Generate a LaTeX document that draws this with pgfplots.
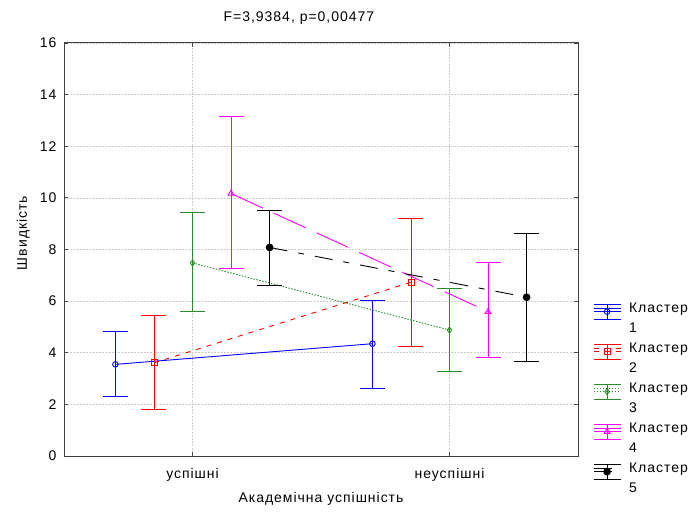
\documentclass[border=0pt]{standalone}
\usepackage{fontspec}
\setmainfont{Liberation Sans}[LetterSpace=7]
\usepackage{pgfplots}
\pgfplotsset{compat=1.18}
\definecolor{cgreen}{RGB}{40,140,40}
\definecolor{cmag}{RGB}{255,0,255}
\begin{document}
\begin{tikzpicture}
\begin{axis}[
  at={(64bp,56bp)}, anchor=south west,
  scale only axis, width=514bp, height=413bp,
  xmin=-0.5, xmax=1.5, ymin=0, ymax=16,
  xtick={0,1}, xticklabels={успішні,неуспішні},
  ytick={0,2,...,16},
  /pgf/number format/assume math mode=true,
  font=\fontsize{14bp}{16bp}\selectfont,
  grid=major, grid style={dash pattern=on 2bp off 1.2bp, gray!40, line width=0.6bp},
  tick align=inside, major tick length=4bp,
  tick style={gray!60!black, line width=0.8bp},
  axis line style={gray!50!black, line width=1bp},
  xticklabel style={anchor=base, yshift=-22bp},
  yticklabel style={xshift=-4bp},
  title={F=3,9384, p=0,00477},
  title style={at={(0.457,1)}, anchor=base, yshift=16bp},
  xlabel={Академічна успішність},
  xlabel style={at={(0.5,0)}, anchor=base, yshift=-46bp},
  ylabel={Швидкість},
  ylabel style={at={(-0.072,0.54)}, anchor=base},
  every axis plot/.append style={line width=0.9bp},
  error bars/error bar style={solid, line width=0.9bp},
  error bars/error mark options={rotate=90, mark size=12.5bp, solid, line width=0.9bp},
  legend style={at={(1.029,0.373)}, anchor=north west, draw=none, fill=none, inner sep=0pt,
    font=\fontsize{14bp}{16bp}\selectfont, row sep=7bp,
    nodes={inner sep=0pt, text height=10bp, text depth=3bp},
    /tikz/every odd column/.append style={column sep=8bp}},
  legend cell align=left,
  legend image code/.code={
    \path (0bp,0bp) -- (27bp,0bp);
    \begin{scope}[overlay, yshift=-3bp]
    \draw[#1] (0bp,0bp) -- (27bp,0bp);
    \draw[#1,solid] (0bp,7.5bp) -- (27bp,7.5bp) (0bp,-7.5bp) -- (27bp,-7.5bp) (13.5bp,-7.5bp) -- (13.5bp,7.5bp);
    \draw[mark repeat=2,mark phase=2,#1,draw=none] plot coordinates {(0bp,0bp) (13.5bp,0bp) (27bp,0bp)};
    \end{scope}
  },
]
\addplot[blue, solid, mark=o, mark size=2.8bp, mark options={solid, fill=white},
  error bars/.cd, y dir=both, y explicit]
  coordinates {(-0.3,3.55) += (0,1.26) -= (0,1.25) (0.7,4.35) += (0,1.69) -= (0,1.72)};
\addlegendentry{Кластер}
\addlegendimage{empty legend}
\addlegendentry{1}
\addplot[red, dash pattern=on 5bp off 6bp, mark=square, mark size=3bp, mark options={solid, fill=white},
  error bars/.cd, y dir=both, y explicit]
  coordinates {(-0.15,3.61) += (0,1.85) -= (0,1.80) (0.85,6.73) += (0,2.49) -= (0,2.49)};
\addlegendentry{Кластер}
\addlegendimage{empty legend}
\addlegendentry{2}
\addplot[cgreen, dash pattern=on 1.5bp off 1.5bp, mark=diamond, mark size=3bp, mark options={solid, fill=white},
  error bars/.cd, y dir=both, y explicit]
  coordinates {(0,7.48) += (0,1.94) -= (0,1.88) (1,4.88) += (0,1.62) -= (0,1.59)};
\addlegendentry{Кластер}
\addlegendimage{empty legend}
\addlegendentry{3}
\addplot[cmag, dash pattern=on 35bp off 12bp, mark=triangle, mark size=3.4bp, mark options={solid, fill=white},
  error bars/.cd, y dir=both, y explicit]
  coordinates {(0.15,10.17) += (0,3.00) -= (0,2.92) (1.15,5.59) += (0,1.89) -= (0,1.77)};
\addlegendentry{Кластер}
\addlegendimage{empty legend}
\addlegendentry{4}
\addplot[black, dash pattern=on 18bp off 11bp on 6bp off 11bp, mark=*, mark size=3.4bp, mark options={solid},
  error bars/.cd, y dir=both, y explicit]
  coordinates {(0.3,8.08) += (0,1.44) -= (0,1.49) (1.3,6.15) += (0,2.49) -= (0,2.47)};
\addlegendentry{Кластер}
\addlegendimage{empty legend}
\addlegendentry{5}
\end{axis}
\pgfresetboundingbox
\path (0bp,0bp) rectangle (690bp,512bp);
\end{tikzpicture}
\end{document}
